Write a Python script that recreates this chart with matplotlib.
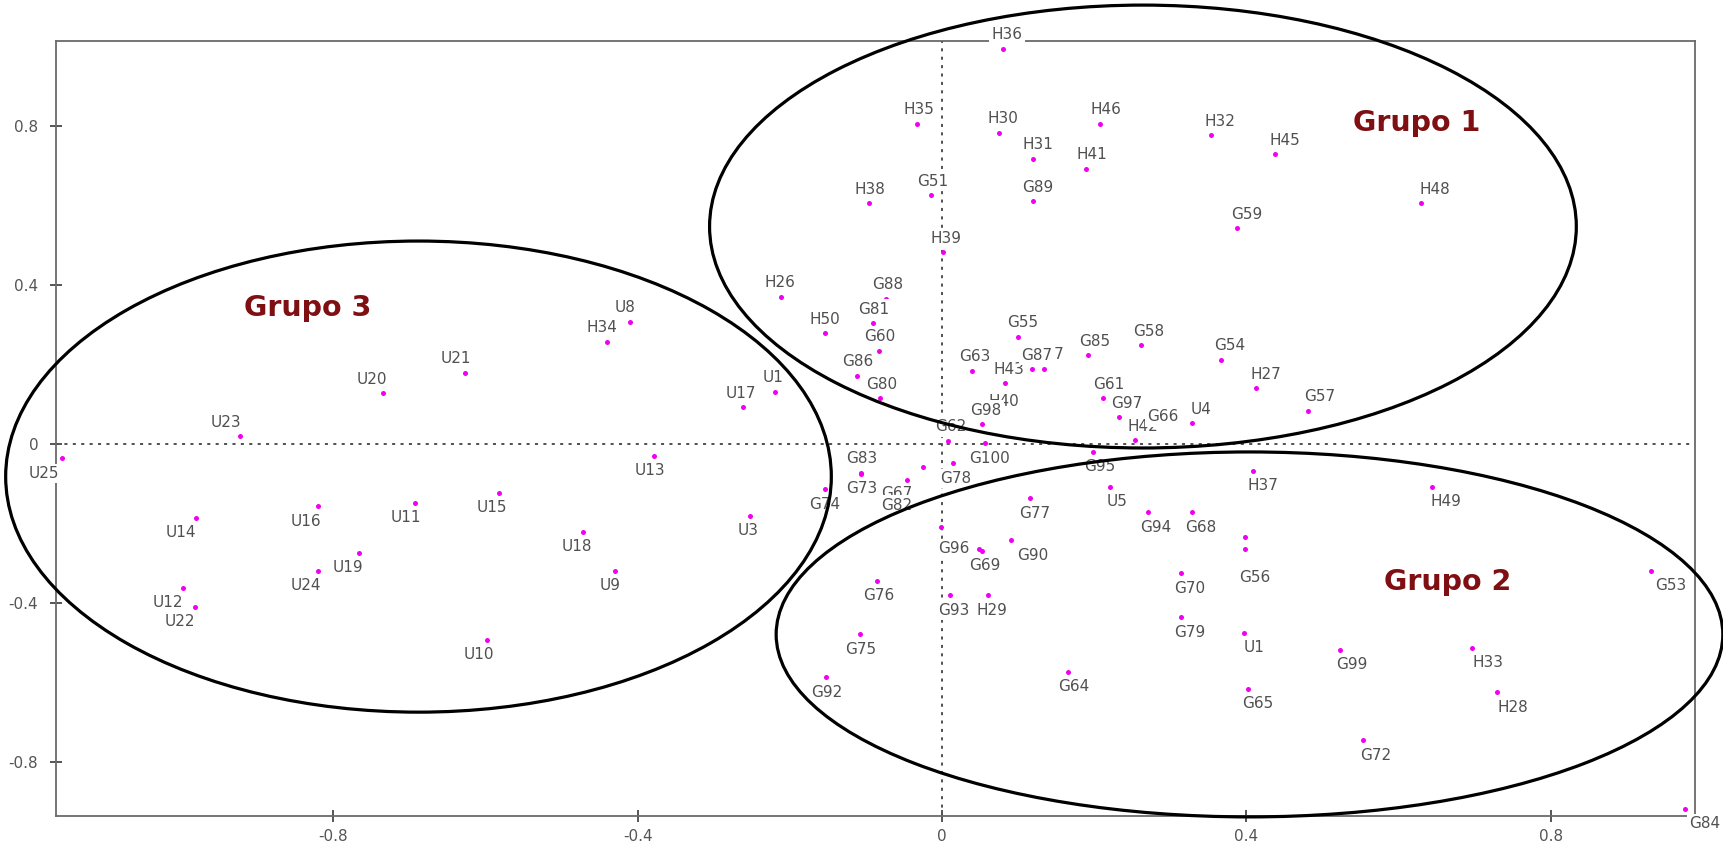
import matplotlib
matplotlib.use('Agg')
import matplotlib.pyplot as plt
from matplotlib.patches import Ellipse

plt.rcParams['font.family'] = ['DejaVu Sans']
plt.rcParams['axes.unicode_minus'] = False

# scores on the two dimensions
names = ['H36', 'H35', 'H30', 'H46', 'H31', 'H41', 'H32', 'H45', 'H38', 'G51',
         'G89', 'G59', 'H48', 'H39', 'H26', 'G88', 'G81', 'H50', 'G60', 'G86',
         'G80', 'U1', 'U17', 'G55', 'G63', 'H43', 'H47', 'G87', 'H40', 'G98',
         'G85', 'G58', 'G61', 'G97', 'H42', 'G66', 'U4', 'G54', 'H27', 'G57',
         'G62',
         'U25', 'U23', 'U20', 'U21', 'U8', 'H34', 'U14', 'U16', 'U11', 'U15',
         'U18', 'U19', 'U24', 'U12', 'U22', 'U10', 'U13', 'U3', 'U9',
         'G100', 'G78', 'G67', 'G82', 'G83', 'G73', 'G74', 'G95', 'G77',
         'U5', 'G94', 'G68', 'H37', 'H49', 'G56', 'G69', 'G96', 'G90', 'G53',
         'G70', 'G79', 'U1', 'G99', 'H33', 'H28', 'G65', 'G72', 'G84', 'G76',
         'G93', 'H29', 'G75', 'G92', 'G64']
xs = [0.080, -0.033, 0.075, 0.207, 0.119, 0.189, 0.353, 0.437, -0.096, -0.015,
      0.119, 0.388, 0.629, 0.001, -0.211, -0.073, -0.091, -0.154, -0.083, -0.112,
      -0.081, -0.220, -0.262, 0.100, 0.039, 0.083, 0.134, 0.118, 0.076, 0.053,
      0.192, 0.262, 0.211, 0.233, 0.254, 0.280, 0.329, 0.366, 0.412, 0.481,
      0.008,
      -1.156, -0.923, -0.735, -0.627, -0.410, -0.440, -0.981, -0.820, -0.692, -0.582,
      -0.472, -0.766, -0.820, -0.997, -0.982, -0.598, -0.379, -0.252, -0.430,
      0.057, 0.014, -0.046, -0.062, -0.106, -0.106, -0.154, 0.199, 0.116,
      0.221, 0.271, 0.329, 0.409, 0.644, 0.398, 0.052, 0.049, 0.090, 0.932,
      0.314, 0.314, 0.397, 0.523, 0.697, 0.729, 0.402, 0.553, 0.976, -0.085,
      0.011, 0.061, -0.108, -0.152, 0.165]
ys = [0.994, 0.805, 0.783, 0.805, 0.718, 0.692, 0.776, 0.729, 0.605, 0.626,
      0.610, 0.543, 0.605, 0.482, 0.371, 0.365, 0.304, 0.278, 0.235, 0.172,
      0.115, 0.132, 0.092, 0.270, 0.184, 0.153, 0.189, 0.188, 0.071, 0.050,
      0.223, 0.248, 0.115, 0.067, 0.010, 0.033, 0.052, 0.212, 0.140, 0.084,
      0.008,
      -0.036, 0.020, 0.128, 0.179, 0.308, 0.257, -0.185, -0.156, -0.148, -0.123,
      -0.221, -0.273, -0.319, -0.362, -0.409, -0.493, -0.030, -0.180, -0.319,
      0.002, -0.049, -0.091, -0.116, -0.072, -0.075, -0.114, -0.019, -0.137,
      -0.107, -0.172, -0.172, -0.067, -0.107, -0.264, -0.268, -0.263, -0.242, -0.319,
      -0.325, -0.436, -0.475, -0.518, -0.512, -0.624, -0.616, -0.745, -0.917, -0.344,
      -0.380, -0.380, -0.478, -0.587, -0.573]
# label side: a above, b below, bl below left, b2 further below, l left, br below right
places = ['a'] * 41 + ['b', 'a', 'a', 'a', 'a', 'a'] + ['b'] * 13 + \
         ['b', 'b', 'bl', 'b', 'a', 'b', 'b', 'b', 'b',
          'b', 'b', 'b', 'b', 'b', 'b2', 'b', 'l', 'br', 'b',
          'b', 'b', 'b', 'b', 'b', 'b', 'b', 'b', 'b', 'b',
          'b', 'b', 'b', 'b', 'b']

# points whose labels sit under their neighbours
extra_x = [-0.002, 0.398, -0.025]
extra_y = [-0.210, -0.235, -0.057]

group_names = ['Grupo 1', 'Grupo 2', 'Grupo 3']
group_cx = [0.264, 0.404, -0.688]
group_cy = [0.547, -0.479, -0.082]
group_w = [1.139, 1.244, 1.085]
group_h = [1.114, 0.918, 1.185]
group_tx = [0.624, 0.664, -0.833]
group_ty = [0.808, -0.346, 0.341]

ticks = [-0.8, -0.4, 0, 0.4, 0.8]
tick_labels = ['-0.8', '-0.4', '0', '0.4', '0.8']

OFFS = {'a': (0, 14), 'b': (0, -15), 'bl': (-12, -13), 'b2': (0, -29),
        'l': (-29, 0), 'br': (18, -15)}

fig = plt.figure(figsize=(17.24, 8.48), dpi=100)
ax = fig.add_axes([0.0322, 0.0377, 0.951, 0.914])
ax.set_xlim(-1.165, 0.9895)
ax.set_ylim(-0.9358, 1.0138)

ax.axhline(0, color='#222222', lw=1.1, ls=(0, (2, 3.5)), zorder=1)
ax.axvline(0, color='#222222', lw=1.1, ls=(0, (2, 3.5)), zorder=1)

ax.plot(xs, ys, 'o', color='#f000f0', ms=3.6, mec='none', zorder=3)
ax.plot(extra_x, extra_y, 'o', color='#f000f0', ms=3.6, mec='none', zorder=3)

for n, x, y, p in zip(names, xs, ys, places):
    dx, dy = OFFS[p]
    dx += 18 * (x + 0.15)   # labels drift outward from the centre
    ax.annotate(n, (x, y), xytext=(dx, dy), textcoords='offset pixels',
                ha='center', va='center', fontsize=11, color='#505050',
                zorder=4, annotation_clip=False,
                bbox=dict(boxstyle='square,pad=0.15', fc='white', ec='none'))

for i in range(3):
    ax.add_patch(Ellipse((group_cx[i], group_cy[i]), group_w[i], group_h[i],
                         fill=False, ec='black', lw=2.3, zorder=5, clip_on=False))
    ax.text(group_tx[i], group_ty[i], group_names[i], ha='center', va='center',
            fontsize=20.5, fontweight='bold', color='#7f0f12', zorder=6)

ax.set_xticks(ticks)
ax.set_xticklabels(tick_labels)
ax.set_yticks(ticks)
ax.set_yticklabels(tick_labels)
ax.tick_params(direction='inout', length=8, width=1.4, color='#555555',
               labelsize=11, labelcolor='#555555')
ax.tick_params(axis='x', pad=5)
ax.tick_params(axis='y', pad=8.5)
for s in ax.spines.values():
    s.set_color('#6a6a6a')
    s.set_linewidth(1.3)
    s.set_zorder(2)

fig.savefig('out.png', dpi=100)
